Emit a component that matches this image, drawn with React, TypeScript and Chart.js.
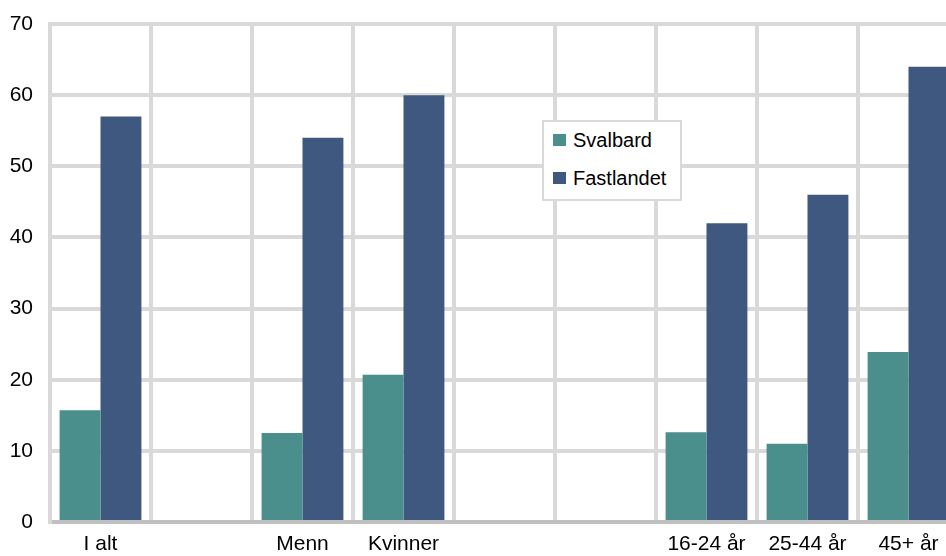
import React, { useEffect, useRef } from "react";
import { Chart, registerables } from "chart.js";

Chart.register(...registerables);

const categories = ["I alt", "", "Menn", "Kvinner", "", "", "16-24 år", "25-44 år", "45+ år"];
const svalbard = [15.7, null, 12.5, 20.7, null, null, 12.6, 11.0, 23.9];
const fastlandet = [57, null, 54, 60, null, null, 42, 46, 64];
const yTicks = [0, 10, 20, 30, 40, 50, 60, 70];

const TEAL = "#4a8f8c";
const NAVY = "#3e5880";
const GRID = "#d9d9d9";
const FONT = "'Liberation Sans', Arial, Helvetica, sans-serif";

export default function App() {
  const ref = useRef<HTMLCanvasElement | null>(null);

  useEffect(() => {
    if (!ref.current) return;
    const chart = new Chart(ref.current, {
      type: "bar",
      data: {
        labels: categories,
        datasets: [
          { label: "Svalbard", data: svalbard as any, backgroundColor: TEAL, borderWidth: 0 },
          { label: "Fastlandet", data: fastlandet as any, backgroundColor: NAVY, borderWidth: 0 },
        ],
      },
      options: {
        animation: false,
        responsive: false,
        maintainAspectRatio: false,
        layout: { padding: { top: 24, right: 11, bottom: 0, left: 0 } },
        plugins: { legend: { display: false }, tooltip: { enabled: false } },
        datasets: { bar: { categoryPercentage: 0.81, barPercentage: 1.0 } },
        scales: {
          x: {
            afterFit: (s: any) => { s.height = 34; s.paddingTop = 0; s.paddingBottom = 0; },
            grid: { color: GRID, lineWidth: 4, drawTicks: false, offset: true },
            border: { display: true, color: "#c0c0c0", width: 4 },
            ticks: { color: "#000", font: { family: FONT, size: 21 }, padding: 10, maxRotation: 0, autoSkip: false },
          },
          y: {
            min: 0,
            max: 70,
            afterFit: (s: any) => { s.width = 50; s.paddingTop = 0; s.paddingBottom = 0; },
            afterBuildTicks: (s: any) => { s.ticks = yTicks.map((v) => ({ value: v })); },
            grid: { color: GRID, lineWidth: 4, drawTicks: false },
            border: { display: true, color: GRID, width: 4 },
            ticks: { color: "#000", font: { family: FONT, size: 21 }, padding: 17 },
          },
        },
      },
    });
    return () => chart.destroy();
  }, []);

  const legendItem = (color: string, text: string, top: number) => (
    <div style={{ position: "absolute", left: 9, top, display: "flex", alignItems: "center", height: 24 }}>
      <div style={{ width: 13, height: 12, background: color, marginRight: 7 }} />
      <span style={{ fontFamily: FONT, fontSize: 20, color: "#000", lineHeight: "24px" }}>{text}</span>
    </div>
  );

  return (
    <div style={{ position: "absolute", left: 0, top: 0, width: 946, height: 556, overflow: "hidden", background: "#fff" }}>
      <canvas ref={ref} width={970} height={556} style={{ display: "block", width: 970, height: 556 }} />
      <div
        style={{
          position: "absolute",
          left: 542,
          top: 120,
          width: 136,
          height: 77,
          border: `2px solid ${GRID}`,
          background: "#fff",
        }}
      >
        {legendItem(TEAL, "Svalbard", 6)}
        {legendItem(NAVY, "Fastlandet", 44)}
      </div>
    </div>
  );
}
